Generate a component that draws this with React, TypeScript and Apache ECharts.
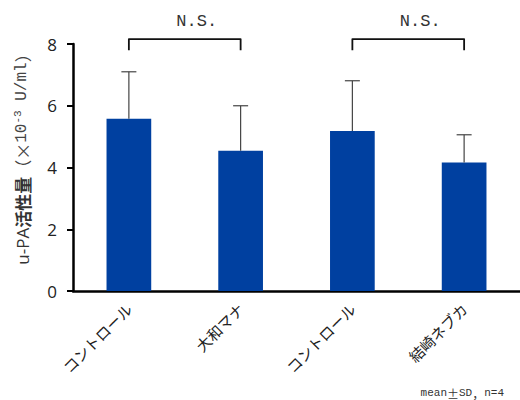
import React, { useEffect, useRef } from "react";
import * as echarts from "echarts";

const categories = ["コントロール", "大和マナ", "コントロール", "結崎ネブカ"];
const means = [5.58, 4.54, 5.18, 4.16];
const sds = [1.52, 1.46, 1.63, 0.9];
const yTicks = [0, 2, 4, 6, 8];
const comparisons = [
  [0, 1],
  [2, 3],
];
const comparisonLabel = "N.S.";

const MONO = "'Liberation Mono', 'DejaVu Sans Mono', monospace";
const CJK = "'Noto Sans CJK JP', 'Noto Sans', sans-serif";

export default function App() {
  const ref = useRef<HTMLDivElement>(null);
  useEffect(() => {
    if (!ref.current) return;
    const chart = echarts.init(ref.current, undefined, { renderer: "svg" });
    const errData = means.map((m, i) => [i, m, sds[i]]);
    const brData = comparisons.map((c) => [c[0], c[1], 7.8, 8.16]);
    chart.setOption({
      animation: false,
      backgroundColor: "#fff",
      grid: { left: 73, right: 0, top: 44, bottom: 109 },
      xAxis: {
        type: "category",
        data: categories,
        axisLine: { show: true, lineStyle: { color: "#000", width: 2.5 } },
        axisTick: { show: false },
        axisLabel: {
          rotate: 45,
          margin: 15,
          fontFamily: CJK,
          fontSize: 15,
          color: "#222",
          interval: 0,
        },
      },
      yAxis: {
        type: "value",
        min: yTicks[0],
        max: yTicks[yTicks.length - 1],
        interval: 2,
        splitLine: { show: false },
        axisLine: { show: true, lineStyle: { color: "#000", width: 2.5 } },
        axisTick: { show: true, length: 6, lineStyle: { color: "#000", width: 2 } },
        axisLabel: {
          margin: 16,
          fontFamily: "'Open Sans', 'Noto Sans', sans-serif",
          fontSize: 17,
          color: "#222",
        },
      },
      series: [
        {
          type: "bar",
          data: means,
          barWidth: "40%",
          itemStyle: { color: "#0040A0" },
          z: 2,
        },
        {
          type: "custom",
          data: errData,
          encode: { x: 0, y: 1 },
          z: 3,
          renderItem: (params: any, api: any) => {
            const x = api.value(0);
            const m = api.value(1);
            const sd = api.value(2);
            const p0 = api.coord([x, m]);
            const p1 = api.coord([x, m + sd]);
            const style = { stroke: "#444", lineWidth: 1.2 };
            return {
              type: "group",
              children: [
                { type: "line", shape: { x1: p0[0], y1: p0[1], x2: p1[0], y2: p1[1] }, style },
                { type: "line", shape: { x1: p1[0] - 7.5, y1: p1[1], x2: p1[0] + 7.5, y2: p1[1] }, style },
              ],
            };
          },
        },
        {
          type: "custom",
          data: brData,
          encode: { x: [0, 1], y: [2, 3] },
          clip: false,
          z: 3,
          renderItem: (params: any, api: any) => {
            const a = api.value(0);
            const b = api.value(1);
            const lo = api.value(2);
            const hi = api.value(3);
            const pA0 = api.coord([a, lo]);
            const pA1 = api.coord([a, hi]);
            const pB0 = api.coord([b, lo]);
            const pB1 = api.coord([b, hi]);
            const mid = (pA1[0] + pB1[0]) / 2;
            return {
              type: "group",
              children: [
                {
                  type: "polyline",
                  shape: { points: [pA0, pA1, pB1, pB0] },
                  style: { stroke: "#111", lineWidth: 1.8, fill: null, lineJoin: "round" },
                },
                {
                  type: "text",
                  x: mid + 12,
                  y: pA1[1] - 18,
                  style: {
                    text: comparisonLabel,
                    fontFamily: MONO,
                    fontSize: 17,
                    fill: "#333",
                    align: "center",
                    verticalAlign: "middle",
                  },
                },
              ],
            };
          },
        },
      ],
      graphic: [
        {
          type: "text",
          x: 22,
          y: 155,
          rotation: Math.PI / 2,
          style: {
            text: "{a|u-PA}{b|活性量}{p|（×}{c|10}{s|-3}{c| U/ml}{p|）}",
            align: "center",
            verticalAlign: "middle",
            rich: {
              a: { fontFamily: "'Open Sans', 'Noto Sans', sans-serif", fontSize: 17, fill: "#333" },
              b: { fontFamily: CJK, fontSize: 17, fontWeight: "bold", fill: "#333" },
              p: { fontFamily: CJK, fontSize: 17, fill: "#444" },
              c: { fontFamily: MONO, fontSize: 16, fill: "#444" },
              s: { fontFamily: MONO, fontSize: 11, fill: "#444", padding: [0, 0, 9, 0] },
            },
          },
        },
        {
          type: "text",
          x: 504,
          y: 393,
          style: {
            text: "{m|mean}{j|±}{m|SD}{j|，}{m|n=4}",
            align: "right",
            verticalAlign: "middle",
            rich: {
              m: { fontFamily: MONO, fontSize: 11, fill: "#333" },
              j: { fontFamily: CJK, fontSize: 12, fill: "#333" },
            },
          },
        },
      ],
    });
    return () => chart.dispose();
  }, []);
  return (
    <div
      ref={ref}
      style={{ position: "fixed", left: 0, top: 0, width: 520, height: 400 }}
    />
  );
}
